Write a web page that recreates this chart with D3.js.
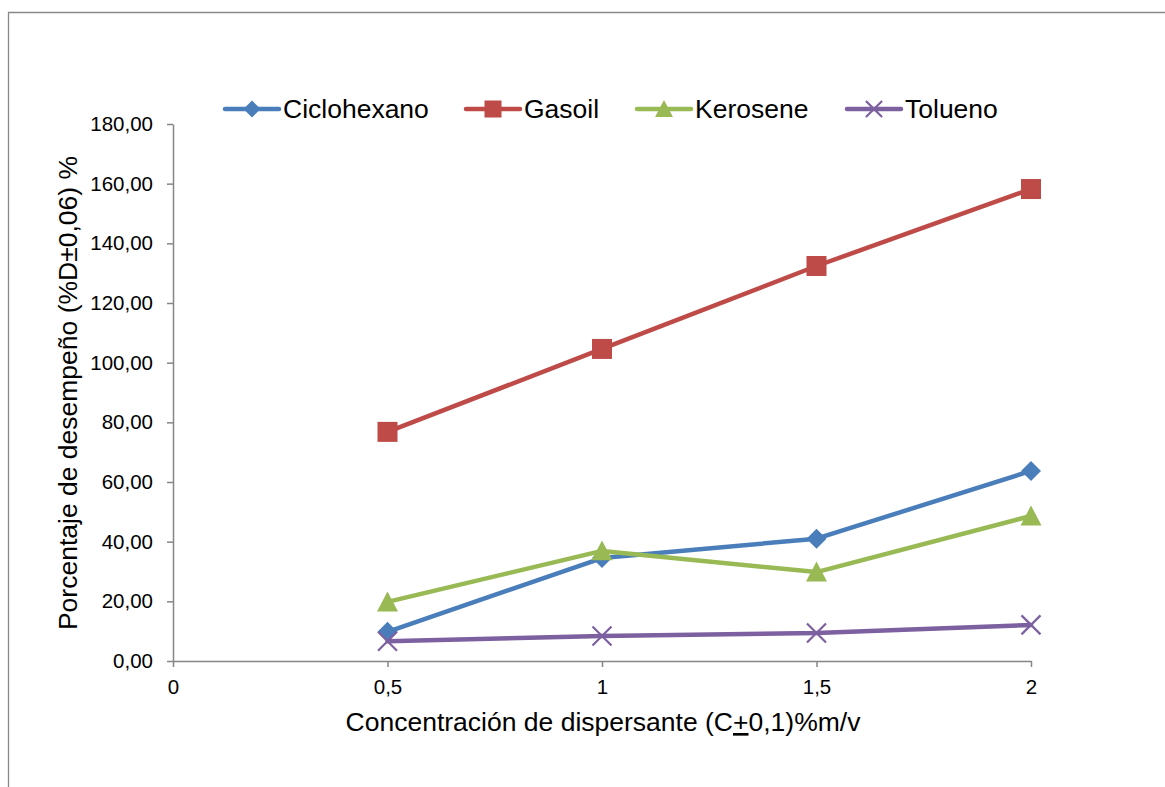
<!DOCTYPE html>
<html><head><meta charset="utf-8">
<script src="https://cdn.jsdelivr.net/npm/d3@7"></script>
<style>body{margin:0;background:#fff}svg{display:block;font-family:"Liberation Sans",Arial,sans-serif}</style>
</head><body><svg id="c" width="1165" height="787"></svg>
<script>
const xValues = [0.5, 1, 1.5, 2];
const ciclohexano = [9.8, 34.5, 41.0, 63.7];
const gasoil = [76.8, 104.6, 132.4, 158.2];
const kerosene = [19.8, 36.9, 29.8, 48.6];
const tolueno = [6.6, 8.4, 9.4, 12.1];
const seriesNames = ["Ciclohexano", "Gasoil", "Kerosene", "Tolueno"];
const xTicks = [0, 0.5, 1, 1.5, 2];
const yTicks = [0, 20, 40, 60, 80, 100, 120, 140, 160, 180];

const colors = ["#4A7EBB", "#BE4B48", "#98B954", "#7D60A0"];
const symbols = ["diamond", "square", "triangle", "cross"];
const series = [ciclohexano, gasoil, kerosene, tolueno];

const svg = d3.select("#c");
// frame
svg.append("path").attr("d","M8.5,787 V12.5 H1165").attr("fill","none").attr("stroke","#888").attr("stroke-width",1.3);

const x = d3.scaleLinear().domain([0,2]).range([173,1031]);
const y = d3.scaleLinear().domain([0,180]).range([661,124]);
const fmt = d => d3.format(".2f")(d).replace(".", ",");
const fmtX = d => String(d).replace(".", ",");

const yAxis = svg.append("g").attr("transform","translate(173,0)")
  .call(d3.axisLeft(y).tickValues(yTicks).tickFormat(fmt).tickSizeInner(6).tickSizeOuter(0).tickPadding(13));
const xAxis = svg.append("g").attr("transform","translate(0,661)")
  .call(d3.axisBottom(x).tickValues(xTicks).tickFormat(fmtX).tickSizeInner(6).tickSizeOuter(0).tickPadding(12));
[yAxis, xAxis].forEach(a=>{
  a.selectAll("path,line").attr("stroke","#868686").attr("stroke-width",1.5);
  a.selectAll("text").attr("fill","#000").style("font-size","20.5px").style("font-family","'Liberation Sans',Arial,sans-serif");
});
yAxis.selectAll("text").attr("x", -20);

function marker(g, type, cx, cy, color, s){
  s = s || 1;
  if(type==="diamond"){
    const r = 10*s;
    g.append("path").attr("d",`M${cx},${cy-r}L${cx+r},${cy}L${cx},${cy+r}L${cx-r},${cy}Z`).attr("fill",color);
  } else if(type==="square"){
    const r = 10*s;
    g.append("rect").attr("x",cx-r).attr("y",cy-r).attr("width",2*r).attr("height",2*r).attr("fill",color);
  } else if(type==="triangle"){
    const r = 10.5*s;
    g.append("path").attr("d",`M${cx},${cy-r}L${cx+r},${cy+r*0.9}L${cx-r},${cy+r*0.9}Z`).attr("fill",color);
  } else {
    const r = 9.5*s;
    g.append("path").attr("d",`M${cx-r},${cy-r}L${cx+r},${cy+r}M${cx-r},${cy+r}L${cx+r},${cy-r}`).attr("stroke",color).attr("stroke-width",2.2);
  }
}

const line = d3.line().x((d,i)=>x(xValues[i])).y(d=>y(d));
series.forEach((s,k)=>{
  const g = svg.append("g");
  g.append("path").datum(s).attr("d",line).attr("fill","none").attr("stroke",colors[k]).attr("stroke-width",4.5).attr("stroke-linejoin","round").attr("stroke-linecap","round");
  s.forEach((v,i)=>marker(g, symbols[k], x(xValues[i]), y(v), colors[k]));
});

// legend
const legX = [225, 466, 637, 847];
seriesNames.forEach((n,k)=>{
  const g = svg.append("g");
  const ly = 109;
  g.append("line").attr("x1",legX[k]).attr("x2",legX[k]+54).attr("y1",ly).attr("y2",ly).attr("stroke",colors[k]).attr("stroke-width",4.5).attr("stroke-linecap","round");
  marker(g, symbols[k], legX[k]+27, ly, colors[k], 0.85);
  g.append("text").attr("x",legX[k]+58).attr("y",ly+9).text(n).style("font-size","26.5px").attr("fill","#000");
});

// axis titles
const xt = svg.append("text").attr("x",603).attr("y",731).attr("text-anchor","middle").style("font-size","26.5px");
xt.append("tspan").text("Concentración de dispersante (C");
xt.append("tspan").attr("text-decoration","underline").text("+");
xt.append("tspan").text("0,1)%m/v");

const yt = svg.append("text").attr("transform","translate(77,393) rotate(-90)").attr("text-anchor","middle").style("font-size","26.5px");
yt.append("tspan").text("Porcentaje de desempeño (%D±0,06) %");
</script></body></html>
